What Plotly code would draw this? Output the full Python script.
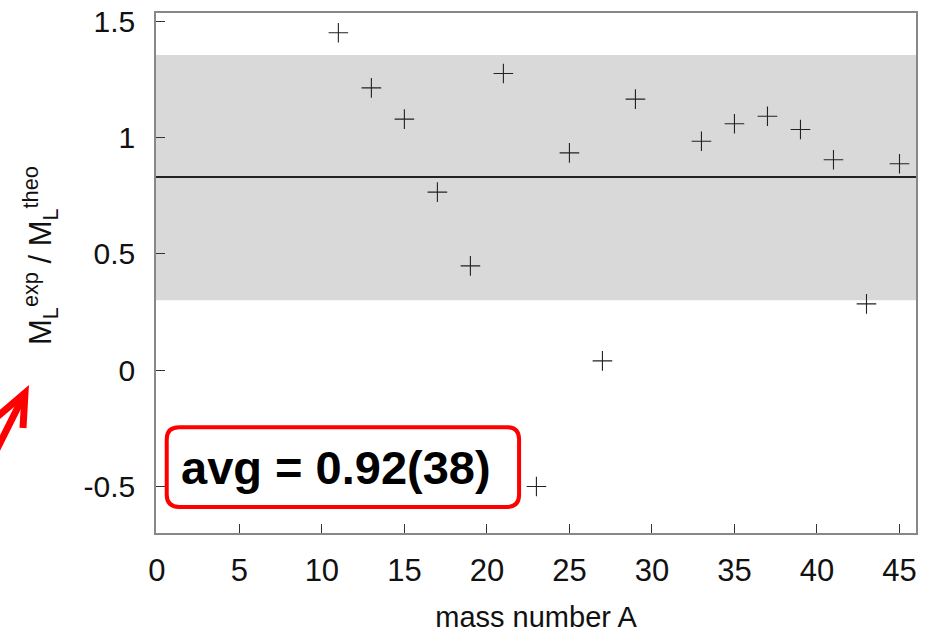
import plotly.graph_objects as go

# Data
mass_number = [11, 13, 15, 17, 19, 21, 23, 25, 27, 29, 33, 35, 37, 39, 41, 43, 45]
ratio = [1.45, 1.213, 1.079, 0.765, 0.448, 1.275, -0.50, 0.934, 0.04, 1.165,
         0.984, 1.059, 1.091, 1.034, 0.904, 0.285, 0.887]
avg_line = 0.83
band_low = 0.30
band_high = 1.355
x_ticks = [0, 5, 10, 15, 20, 25, 30, 35, 40, 45]
y_ticks = [-0.5, 0, 0.5, 1, 1.5]
y_tick_labels = ["-0.5", "0", "0.5", "1", "1.5"]
annot_text = "avg = 0.92(38)"

FONT = "Liberation Sans, Arial, sans-serif"

fig = go.Figure()

fig.add_trace(go.Scatter(
    x=mass_number, y=ratio, mode="markers",
    marker=dict(symbol="cross-thin", size=14, color="#222222",
                line=dict(width=1.1, color="#222222")),
    showlegend=False, cliponaxis=False,
))

# shaded band and average line
fig.add_shape(type="rect", xref="paper", x0=0, x1=1, yref="y", y0=band_low, y1=band_high,
              fillcolor="#d9d9d9", line=dict(width=0), layer="below")
fig.add_shape(type="line", xref="paper", x0=0, x1=1, yref="y", y0=avg_line, y1=avg_line,
              line=dict(color="#222222", width=2), layer="below")

# rounded red box (decoration)
bx0, bx1, by0, by1 = 0.6, 21.95, -0.588, -0.245
rx, ry = 0.75, 0.052
path = (f"M {bx0+rx},{by1} L {bx1-rx},{by1} Q {bx1},{by1} {bx1},{by1-ry} "
        f"L {bx1},{by0+ry} Q {bx1},{by0} {bx1-rx},{by0} "
        f"L {bx0+rx},{by0} Q {bx0},{by0} {bx0},{by0+ry} "
        f"L {bx0},{by1-ry} Q {bx0},{by1} {bx0+rx},{by1} Z")
fig.add_shape(type="path", xref="x", yref="y", path=path,
              fillcolor="white", line=dict(color="#ff0000", width=4), layer="above")
fig.add_annotation(x=10.85, y=-0.418, xref="x", yref="y", text=f"<b>{annot_text}</b>",
                   showarrow=False, font=dict(family=FONT, size=47, color="black"))

# red arrow at left (decoration)
def px2paper(px, py):
    return (px - 156) / 760, (533 - py) / 520

tip = px2paper(25, 393)
tail = px2paper(-12, 467)
arm1 = px2paper(-2, 416)
arm2 = px2paper(23, 428)
fig.add_shape(type="path", xref="paper", yref="paper",
              path=f"M {tail[0]},{tail[1]} L {tip[0]},{tip[1]}",
              line=dict(color="#ff0000", width=7))
fig.add_shape(type="path", xref="paper", yref="paper",
              path=f"M {arm1[0]},{arm1[1]} L {tip[0]},{tip[1]} L {arm2[0]},{arm2[1]}",
              line=dict(color="#ff0000", width=7))

# y-axis title as rotated annotation
fig.add_annotation(xref="paper", yref="paper", x=(40 - 156) / 760, y=(533 - 256) / 520,
                   xanchor="center", yanchor="middle",
                   text="M<sub>L</sub><sup>exp</sup> / M<sub>L</sub><sup>theo</sup>",
                   textangle=-90, showarrow=False,
                   font=dict(family=FONT, size=31, color="#111111"))

fig.update_xaxes(range=[-0.05, 46], tickvals=x_ticks, ticks="inside", ticklen=9,
                 tickcolor="#333333", showline=True, linecolor="#888888", linewidth=1.5,
                 mirror=True, showgrid=False, zeroline=False, automargin=False,
                 tickfont=dict(family=FONT, size=31, color="#111111"),
                 ticklabelstandoff=9,
                 title=dict(text="mass number A", font=dict(family=FONT, size=29, color="#111111"),
                            standoff=20))
fig.update_yaxes(range=[-0.70, 1.535], tickvals=y_ticks, ticktext=y_tick_labels,
                 ticks="inside", ticklen=9, tickcolor="#333333", showline=True,
                 linecolor="#888888", linewidth=1.5, mirror=True, showgrid=False,
                 zeroline=False, ticklabelstandoff=13, automargin=False,
                 tickfont=dict(family=FONT, size=30, color="#111111"))

fig.update_layout(width=933, height=634, margin=dict(l=156, r=17, t=13, b=101),
                  plot_bgcolor="white", paper_bgcolor="white")

fig.write_html("out.html")
